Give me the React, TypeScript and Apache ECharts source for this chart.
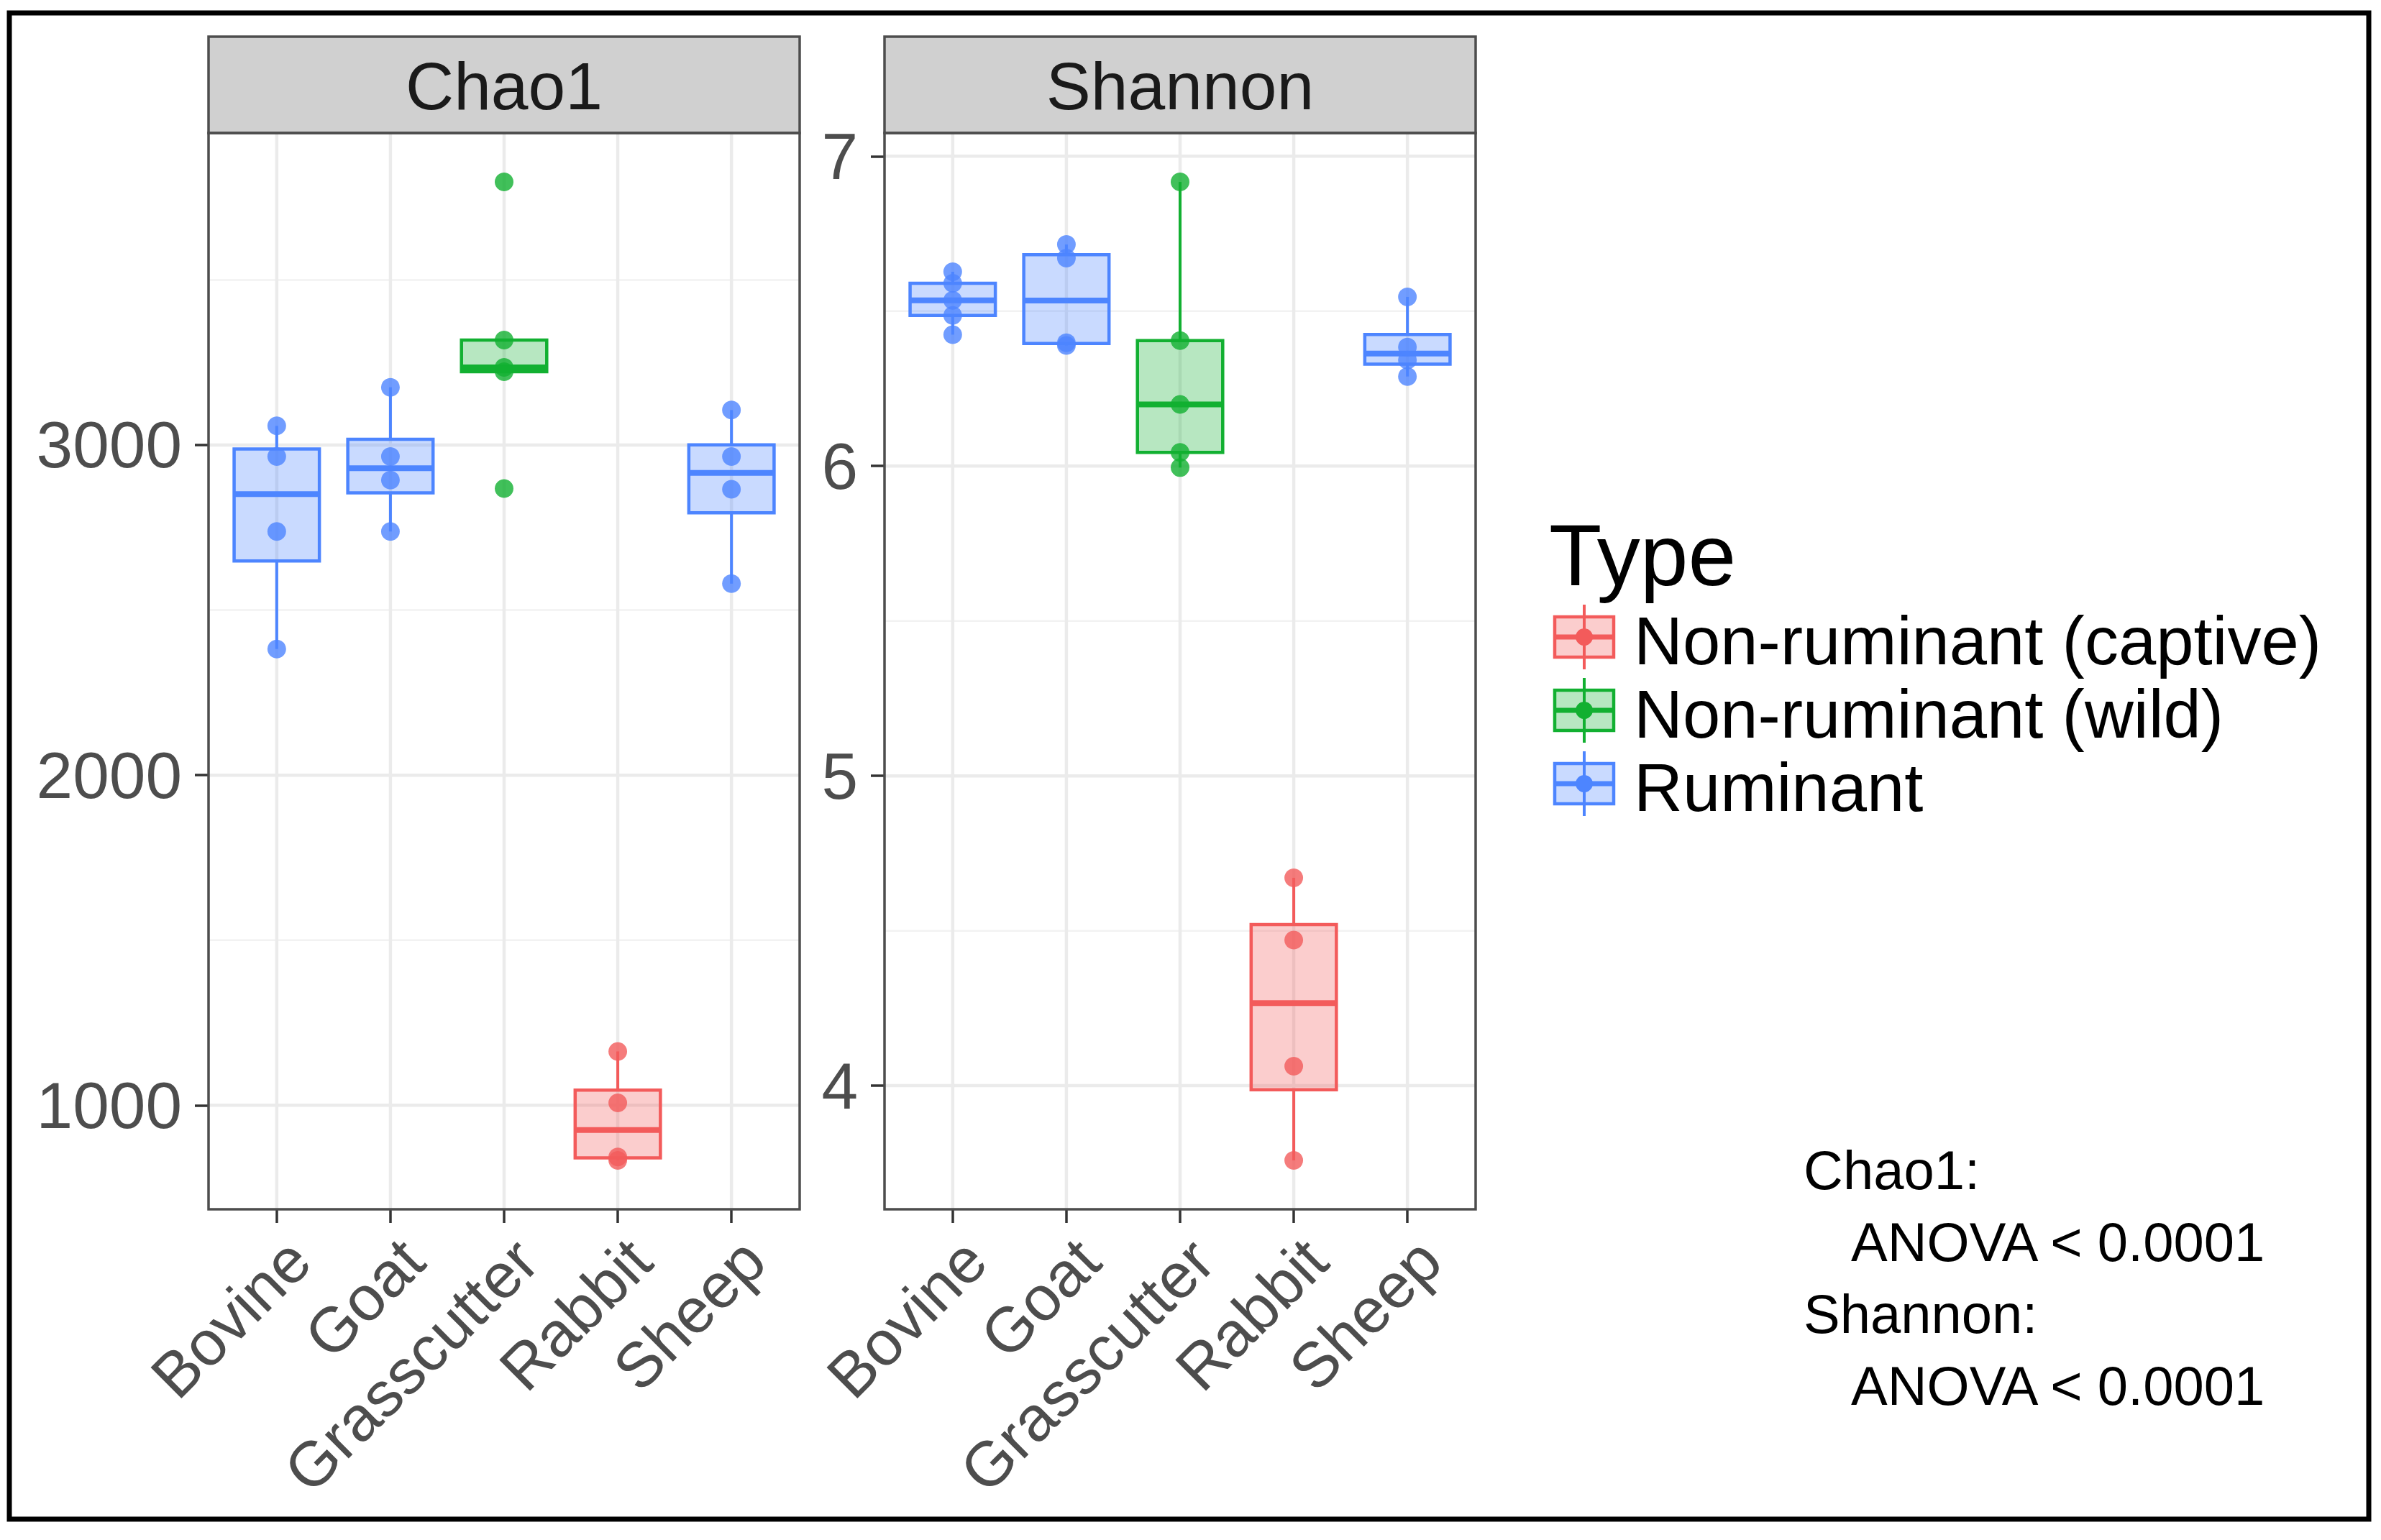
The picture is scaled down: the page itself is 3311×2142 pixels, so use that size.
import React, { useEffect, useRef } from "react";
import * as echarts from "echarts";

const categories = ["Bovine", "Goat", "Grasscutter", "Rabbit", "Sheep"];
const typeNames = ["Non-ruminant (captive)", "Non-ruminant (wild)", "Ruminant"];
const typeColors = ["#F35B5B", "#12B031", "#4D85FF"];
const categoryType = [2, 2, 1, 0, 2];

const chao1Bovine = [2382, 2738, 2965, 3058];
const chao1Goat = [2738, 2894, 2965, 3175];
const chao1Grasscutter = [2868, 3222, 3235, 3318, 3797];
const chao1Rabbit = [833, 843, 1007, 1163];
const chao1Sheep = [2580, 2866, 2965, 3106];

const shannonBovine = [6.424, 6.486, 6.535, 6.59, 6.627];
const shannonGoat = [6.389, 6.398, 6.671, 6.715];
const shannonGrasscutter = [5.995, 6.044, 6.199, 6.405, 6.917];
const shannonRabbit = [3.759, 4.063, 4.47, 4.671];
const shannonSheep = [6.289, 6.342, 6.384, 6.546];

const chao1Ticks = [1000, 2000, 3000];
const chao1MinorTicks = [1500, 2500, 3500];
const shannonTicks = [4, 5, 6, 7];
const shannonMinorTicks = [4.5, 5.5, 6.5];

const legendTitle = "Type";
const statLines = ["Chao1:", "ANOVA < 0.0001", "Shannon:", "ANOVA < 0.0001"];
const statIndent = [0, 1, 0, 1];

const FONT = "Liberation Sans, Arial, Helvetica, sans-serif";

const chao1Samples = [chao1Bovine, chao1Goat, chao1Grasscutter, chao1Rabbit, chao1Sheep];
const shannonSamples = [shannonBovine, shannonGoat, shannonGrasscutter, shannonRabbit, shannonSheep];

function hexToRgba(hex: string, a: number) {
  const n = parseInt(hex.slice(1), 16);
  return `rgba(${(n >> 16) & 255},${(n >> 8) & 255},${n & 255},${a})`;
}

function quantile(sorted: number[], p: number) {
  const h = (sorted.length - 1) * p;
  const lo = Math.floor(h);
  const hi = Math.ceil(h);
  return sorted[lo] + (h - lo) * (sorted[hi] - sorted[lo]);
}

function boxStats(values: number[]) {
  const s = [...values].sort((a, b) => a - b);
  const q1 = quantile(s, 0.25);
  const med = quantile(s, 0.5);
  const q3 = quantile(s, 0.75);
  const iqr = q3 - q1;
  const lo = s.find((v) => v >= q1 - 1.5 * iqr) as number;
  const hi = [...s].reverse().find((v) => v <= q3 + 1.5 * iqr) as number;
  return [lo, q1, med, q3, hi];
}

function paddedRange(groups: number[][]) {
  const all = groups.flat();
  const mn = Math.min(...all);
  const mx = Math.max(...all);
  const pad = (mx - mn) * 0.05;
  return [mn - pad, mx + pad];
}

const PANEL_TOP = 185;
const PANEL_W = 822;
const PANEL_H = 1497;
const STRIP_TOP = 51;

const panels = [
  { title: "Chao1", samples: chao1Samples, ticks: chao1Ticks, minor: chao1MinorTicks, left: 290 },
  { title: "Shannon", samples: shannonSamples, ticks: shannonTicks, minor: shannonMinorTicks, left: 1230 },
];

function buildOption() {
  const grids: any[] = [];
  const xAxes: any[] = [];
  const yAxes: any[] = [];
  const series: any[] = [];
  const graphics: any[] = [];
  const catPositions = categories.map((_, i) => i + 1);

  panels.forEach((p, pi) => {
    const range = paddedRange(p.samples);
    grids.push({ left: p.left, top: PANEL_TOP, width: PANEL_W, height: PANEL_H, show: false, containLabel: false });
    xAxes.push({
      type: "value",
      gridIndex: pi,
      min: 0.4,
      max: 5.6,
      splitLine: { show: false },
      axisLine: { show: false },
      axisTick: { show: true, customValues: catPositions, length: 19, lineStyle: { color: "#333333", width: 3.5 } },
      axisLabel: {
        customValues: catPositions,
        formatter: (v: number) => categories[Math.round(v) - 1] ?? "",
        rotate: 45,
        align: "right",
        verticalAlign: "top",
        margin: 25,
        fontSize: 88,
        color: "#4D4D4D",
        fontFamily: FONT,
      },
    });
    yAxes.push({
      type: "value",
      gridIndex: pi,
      min: range[0],
      max: range[1],
      splitLine: { show: false },
      axisLine: { show: false },
      axisTick: { show: true, customValues: p.ticks, length: 19, lineStyle: { color: "#333333", width: 3.5 } },
      axisLabel: {
        customValues: p.ticks,
        formatter: (v: number) => String(v),
        margin: 37,
        fontSize: 91,
        color: "#4D4D4D",
        fontFamily: FONT,
      },
    });

    const gridData = [
      ...p.ticks.map((t) => [1, t, 0]),
      ...p.minor.map((t) => [1, t, 1]),
      ...catPositions.map((c) => [c, range[0], 2]),
    ];
    series.push({
      type: "custom",
      xAxisIndex: pi,
      yAxisIndex: pi,
      z: 1,
      silent: true,
      encode: { x: 0, y: 1 },
      data: gridData,
      renderItem: (params: any, api: any) => {
        const kind = api.value(2);
        const cs = params.coordSys;
        if (kind === 2) {
          const x = api.coord([api.value(0), api.value(1)])[0];
          return {
            type: "line",
            shape: { x1: x, y1: cs.y, x2: x, y2: cs.y + cs.height },
            style: { stroke: "#EBEBEB", lineWidth: 4.5 },
          };
        }
        const y = api.coord([1, api.value(1)])[1];
        return {
          type: "line",
          shape: { x1: cs.x, y1: y, x2: cs.x + cs.width, y2: y },
          style: { stroke: kind === 0 ? "#EBEBEB" : "#F2F2F2", lineWidth: kind === 0 ? 4.5 : 2.5 },
        };
      },
    });

    const boxData = p.samples.map((vals, i) => [i + 1, ...boxStats(vals), categoryType[i]]);
    series.push({
      type: "custom",
      xAxisIndex: pi,
      yAxisIndex: pi,
      z: 2,
      silent: true,
      encode: { x: 0, y: [1, 2, 3, 4, 5] },
      data: boxData,
      renderItem: (params: any, api: any) => {
        const x = api.value(0);
        const color = typeColors[api.value(6)];
        const pLo = api.coord([x, api.value(1)]);
        const pQ1 = api.coord([x, api.value(2)]);
        const pMed = api.coord([x, api.value(3)]);
        const pQ3 = api.coord([x, api.value(4)]);
        const pHi = api.coord([x, api.value(5)]);
        const halfW = api.size([0.75, 0])[0] / 2;
        return {
          type: "group",
          children: [
            { type: "line", shape: { x1: pLo[0], y1: pLo[1], x2: pQ1[0], y2: pQ1[1] }, style: { stroke: color, lineWidth: 4 } },
            { type: "line", shape: { x1: pQ3[0], y1: pQ3[1], x2: pHi[0], y2: pHi[1] }, style: { stroke: color, lineWidth: 4 } },
            {
              type: "rect",
              shape: { x: pQ3[0] - halfW, y: pQ3[1], width: 2 * halfW, height: pQ1[1] - pQ3[1] },
              style: { fill: hexToRgba(color, 0.3), stroke: color, lineWidth: 4.5 },
            },
            {
              type: "line",
              shape: { x1: pMed[0] - halfW, y1: pMed[1], x2: pMed[0] + halfW, y2: pMed[1] },
              style: { stroke: color, lineWidth: 8 },
            },
          ],
        };
      },
    });

    series.push({
      type: "scatter",
      xAxisIndex: pi,
      yAxisIndex: pi,
      z: 3,
      silent: true,
      symbol: "circle",
      symbolSize: 26,
      data: p.samples.flatMap((vals, i) =>
        vals.map((v) => ({ value: [i + 1, v], itemStyle: { color: typeColors[categoryType[i]] } }))
      ),
    });

    // strip
    graphics.push({
      type: "rect",
      z: 10,
      shape: { x: p.left, y: STRIP_TOP, width: PANEL_W, height: PANEL_TOP - STRIP_TOP },
      style: { fill: "#D0D0D0", stroke: "#4D4D4D", lineWidth: 3.5 },
    });
    graphics.push({
      type: "text",
      z: 11,
      x: p.left + PANEL_W / 2,
      y: 120,
      style: {
        text: p.title,
        fontSize: 93,
        fontFamily: FONT,
        fill: "#1A1A1A",
        align: "center",
        verticalAlign: "middle",
        textAlign: "center",
        textVerticalAlign: "middle",
      },
    });
    // panel border
    graphics.push({
      type: "rect",
      z: 10,
      shape: { x: p.left, y: PANEL_TOP, width: PANEL_W, height: PANEL_H },
      style: { fill: "none", stroke: "#4D4D4D", lineWidth: 3.5 },
    });
  });

  // outer border
  graphics.push({
    type: "rect",
    z: 20,
    shape: { x: 13, y: 18, width: 3281, height: 2095 },
    style: { fill: "none", stroke: "#000000", lineWidth: 7 },
  });

  // legend
  graphics.push({
    type: "text",
    z: 10,
    x: 2154,
    y: 772,
    style: {
      text: legendTitle,
      fontSize: 120,
      fontFamily: FONT,
      fill: "#000000",
      align: "left",
      verticalAlign: "middle",
      textAlign: "left",
      textVerticalAlign: "middle",
    },
  });
  typeNames.forEach((name, i) => {
    const cy = 886 + i * 102;
    const c = typeColors[i];
    const kx = 2162;
    const kw = 82;
    const cx = kx + kw / 2;
    graphics.push({
      type: "group",
      z: 10,
      children: [
        { type: "line", shape: { x1: cx, y1: cy - 45, x2: cx, y2: cy + 45 }, style: { stroke: c, lineWidth: 4 } },
        { type: "rect", shape: { x: kx, y: cy - 28, width: kw, height: 56 }, style: { fill: hexToRgba(c, 0.3), stroke: c, lineWidth: 4.5 } },
        { type: "line", shape: { x1: kx, y1: cy, x2: kx + kw, y2: cy }, style: { stroke: c, lineWidth: 7 } },
        { type: "circle", shape: { cx, cy, r: 12 }, style: { fill: c } },
        {
          type: "text",
          x: 2272,
          y: cy + 5,
          style: {
            text: name,
            fontSize: 94,
            fontFamily: FONT,
            fill: "#000000",
            align: "left",
            verticalAlign: "middle",
            textAlign: "left",
            textVerticalAlign: "middle",
          },
        },
      ],
    });
  });

  // statistics annotation
  statLines.forEach((line, i) => {
    graphics.push({
      type: "text",
      z: 10,
      x: 2508 + statIndent[i] * 66,
      y: 1627 + i * 100,
      style: {
        text: line,
        fontSize: 76,
        fontFamily: FONT,
        fill: "#000000",
        align: "left",
        verticalAlign: "middle",
        textAlign: "left",
        textVerticalAlign: "middle",
      },
    });
  });

  return {
    animation: false,
    backgroundColor: "#FFFFFF",
    grid: grids,
    xAxis: xAxes,
    yAxis: yAxes,
    series,
    graphic: { elements: graphics },
  };
}

export default function App() {
  const ref = useRef<HTMLDivElement>(null);
  useEffect(() => {
    document.body.style.margin = "0";
    if (!ref.current) return;
    const chart = echarts.init(ref.current, undefined, { renderer: "svg" });
    chart.setOption(buildOption() as any);
    return () => chart.dispose();
  }, []);
  return <div ref={ref} style={{ width: 3311, height: 2142 }} />;
}
